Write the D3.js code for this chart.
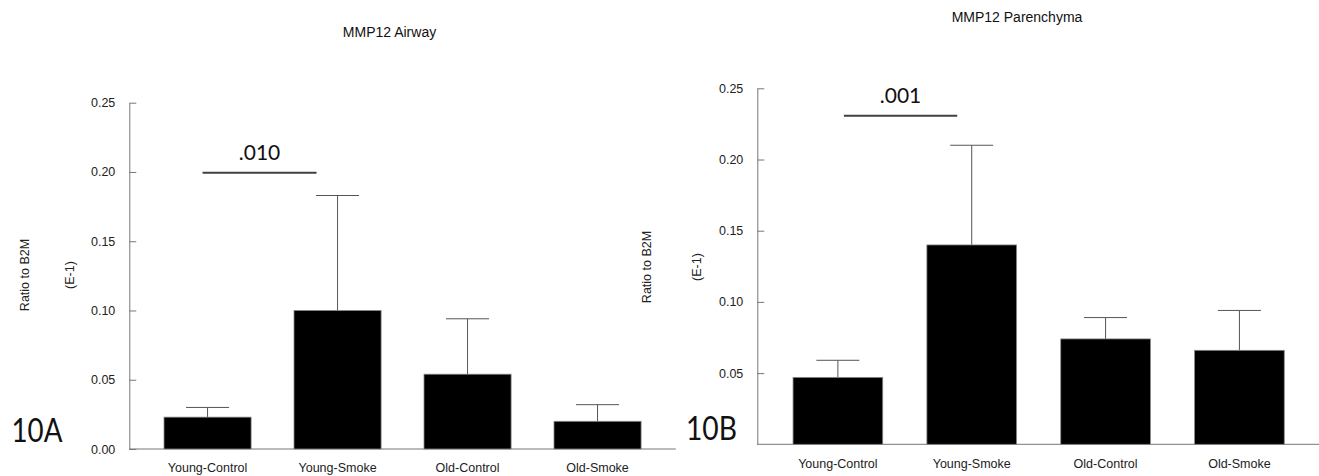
<!DOCTYPE html>
<html>
<head>
<meta charset="utf-8">
<script src="https://cdn.jsdelivr.net/npm/d3@7"></script>
<style>
  html, body { margin: 0; padding: 0; background: #fff; }
  svg { display: block; }
</style>
</head>
<body>
<svg id="chart" width="1319" height="476"></svg>
<script>
// ---- data ----
const categories = ["Young-Control", "Young-Smoke", "Old-Control", "Old-Smoke"];
const airwayMean = [0.023, 0.100, 0.054, 0.020];
const airwayErr  = [0.007, 0.083, 0.040, 0.012];
const parenchymaMean = [0.047, 0.140, 0.074, 0.066];
const parenchymaErr  = [0.012, 0.070, 0.015, 0.028];
const airwayTicks = [0, 0.05, 0.10, 0.15, 0.20, 0.25];
const parenchymaTicks = [0.05, 0.10, 0.15, 0.20, 0.25];
const titles = ["MMP12 Airway", "MMP12 Parenchyma"];
const panelLabels = ["10A", "10B"];
const sigLabels = [".010", ".001"];
const sigValues = [0.1995, 0.2308];
const yLabel = "Ratio to B2M";
const yUnit = "(E-1)";

const svg = d3.select("#chart");
const sansFont = "'Liberation Sans', Arial, Helvetica, sans-serif";
const annoFont = "Lato, 'Open Sans', sans-serif";

const panels = [
  { mean: airwayMean, err: airwayErr, ticks: airwayTicks, title: titles[0], label: panelLabels[0],
    sig: sigLabels[0], sigVal: sigValues[0], sigOff: [-5, -21],
    x0: 129.3, x1: 675.8, yBottom: 449, yTop: 102.7,
    titleX: 389.5, titleY: 37, labelX: 11.5, labelY: 441.5,
    yLabX: 28.5, yUnitX: 74, yLabY: 275, xLabPad: 14.4 },
  { mean: parenchymaMean, err: parenchymaErr, ticks: parenchymaTicks, title: titles[1], label: panelLabels[1],
    sig: sigLabels[1], sigVal: sigValues[1], sigOff: [6, -14.5],
    x0: 757.3, x1: 1320, yBottom: 444.3, yTop: 88.3,
    titleX: 1017, titleY: 22, labelX: 686, labelY: 440,
    yLabX: 651, yUnitX: 701, yLabY: 267, xLabPad: 15.3 }
];

panels.forEach(p => {
  const g = svg.append("g");
  const x = d3.scaleBand().domain(categories).range([p.x0, p.x1])
    .paddingInner(0.33).paddingOuter(0.267).align(0.5);
  const y = d3.scaleLinear().domain([0, 0.25]).range([p.yBottom, p.yTop]);
  const cxOf = c => x(c) + x.bandwidth() / 2;

  // title
  g.append("text").attr("x", p.titleX).attr("y", p.titleY)
    .attr("text-anchor", "middle").attr("font-family", sansFont)
    .attr("font-size", 14).attr("fill", "#111").text(p.title);

  // y axis
  const yAxis = d3.axisLeft(y).tickValues(p.ticks)
    .tickFormat(d3.format(".2f")).tickSizeInner(-7).tickSizeOuter(0).tickPadding(14);
  const ya = g.append("g").attr("transform", `translate(${p.x0},0)`).call(yAxis);
  ya.select(".domain").attr("stroke", "#777");
  ya.selectAll(".tick line").attr("stroke", "#777");
  ya.selectAll(".tick text").attr("font-family", sansFont).attr("font-size", 12.5).attr("fill", "#222");

  // x axis
  const xAxis = d3.axisBottom(x).tickSize(0).tickPadding(p.xLabPad);
  const xa = g.append("g").attr("transform", `translate(0,${p.yBottom})`).call(xAxis);
  xa.select(".domain").remove();
  xa.selectAll(".tick text").attr("font-family", sansFont).attr("font-size", 12.5).attr("fill", "#222");
  g.append("line").attr("x1", p.x0).attr("x2", p.x1)
    .attr("y1", p.yBottom).attr("y2", p.yBottom).attr("stroke", "#777");

  // error bars
  const capHalf = 21.5;
  categories.forEach((c, i) => {
    const cx = cxOf(c);
    const top = y(p.mean[i] + p.err[i]);
    g.append("line").attr("x1", cx).attr("x2", cx)
      .attr("y1", y(p.mean[i])).attr("y2", top).attr("stroke", "#555").attr("stroke-width", 1);
    g.append("line").attr("x1", cx - capHalf).attr("x2", cx + capHalf)
      .attr("y1", top).attr("y2", top).attr("stroke", "#555").attr("stroke-width", 1);
  });

  // bars
  g.selectAll("rect.bar").data(categories).enter().append("rect")
    .attr("class", "bar")
    .attr("x", d => x(d))
    .attr("width", x.bandwidth())
    .attr("y", (d, i) => y(p.mean[i]))
    .attr("height", (d, i) => y(0) - y(p.mean[i]))
    .attr("fill", "#000").attr("stroke", "#888").attr("stroke-width", 0.8);

  // significance
  const sx1 = cxOf(categories[0]) + p.sigOff[0];
  const sx2 = cxOf(categories[1]) + p.sigOff[1];
  const sy = y(p.sigVal);
  g.append("line").attr("x1", sx1).attr("x2", sx2).attr("y1", sy).attr("y2", sy)
    .attr("stroke", "#404040").attr("stroke-width", 2);
  g.append("text").attr("x", (sx1 + sx2) / 2).attr("y", sy - 12.5)
    .attr("text-anchor", "middle").attr("font-family", annoFont)
    .attr("font-size", 21).attr("fill", "#111").text(p.sig);

  // panel label
  g.append("text").attr("x", p.labelX).attr("y", p.labelY)
    .attr("font-family", annoFont).attr("font-size", 33)
    .attr("textLength", 51).attr("lengthAdjust", "spacingAndGlyphs")
    .attr("fill", "#111").text(p.label);

  // y labels
  g.append("text").attr("transform", `translate(${p.yLabX},${p.yLabY}) rotate(-90)`)
    .attr("text-anchor", "middle").attr("font-family", sansFont)
    .attr("font-size", 12.5).attr("fill", "#222").text(yLabel);
  g.append("text").attr("transform", `translate(${p.yUnitX},${p.yLabY}) rotate(-90)`)
    .attr("text-anchor", "middle").attr("font-family", sansFont)
    .attr("font-size", 12.5).attr("fill", "#222").text(yUnit);
});
</script>
</body>
</html>
